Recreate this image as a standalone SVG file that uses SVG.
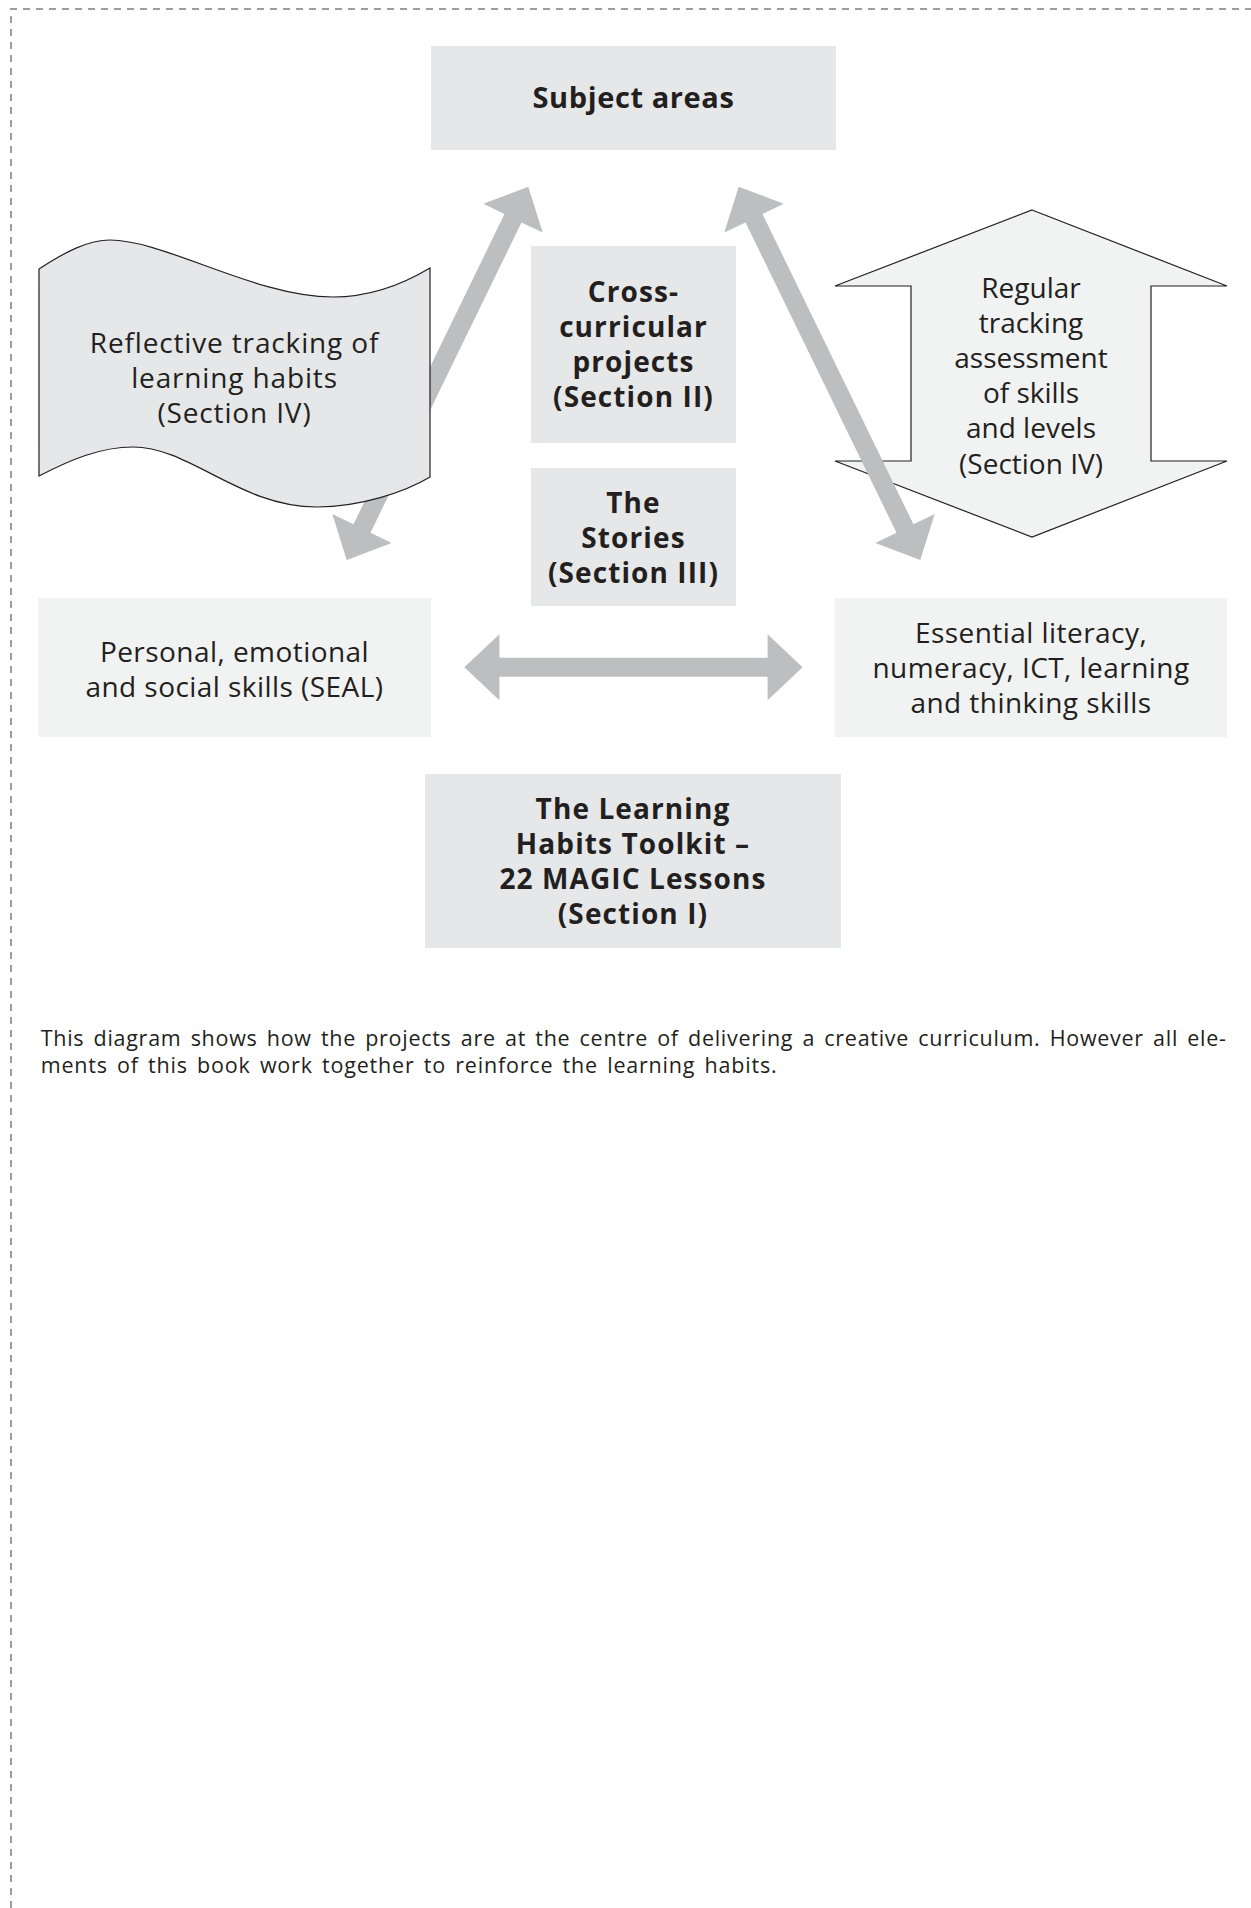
<svg xmlns="http://www.w3.org/2000/svg" width="1251" height="1908" viewBox="0 0 1251 1908">
<style>
.bg{fill:#ffffff}
.border{fill:none;stroke:#9d9d9d;stroke-width:2;stroke-dasharray:7 6}
.mid{fill:#e6e7e8}
.side{fill:#f1f2f2}
.outl{stroke:#231f20;stroke-width:1.2}
.arrow{fill:#bcbec0}
text{font-family:"Open Sans","Noto Sans","DejaVu Sans",sans-serif;fill:#231f20;text-anchor:middle}
.bt{font-weight:700;font-size:29px;letter-spacing:0.6px}
.b{font-weight:700;font-size:28px;letter-spacing:1.1px}
.r{font-weight:400;font-size:28px;letter-spacing:0.45px}
.rf{font-weight:400;font-size:28px;letter-spacing:0.85px}
.rr{font-weight:400;font-size:28px}
.cap{font-size:21.5px;letter-spacing:0.8px;word-spacing:2.9px;text-anchor:start}
</style>
<rect class="bg" x="0" y="0" width="1251" height="1908"/>
<path class="border" d="M11,1908 V9 H1251"/>

<g id="node-regular-tracking">
<polygon class="side outl" points="1032,210 1227,286 1151,286 1151,461 1227,461 1032,537 835,461 911,461 911,286 835,286"/>
<text class="rr" x="1031" y="298"><tspan x="1031">Regular</tspan><tspan x="1031" dy="35">tracking</tspan><tspan x="1031" dy="35">assessment</tspan><tspan x="1031" dy="35">of skills</tspan><tspan x="1031" dy="35">and levels</tspan><tspan x="1031" dy="36">(Section IV)</tspan></text>
</g>

<g id="connectors">
<polygon id="arrow-left" class="arrow" points="528.3,186.7 542.7,232.6 521.5,222.4 370.5,532.7 391.7,542.9 346.7,560 332.3,514.1 353.5,524.3 504.5,214 483.3,203.8"/>
<polygon id="arrow-right" class="arrow" points="738.7,186.7 724.3,232.6 745.5,222.4 896.5,532.7 875.3,542.9 920.3,560 934.7,514.1 913.5,524.3 762.5,214 783.7,203.8"/>
<polygon id="arrow-horizontal" class="arrow" points="464.3,667.2 499.4,634.2 499.4,657.7 767.6,657.7 767.6,634.2 802.6,667.2 767.6,700.2 767.6,676.7 499.4,676.7 499.4,700.2"/>
</g>

<g id="node-subject-areas">
<rect class="mid" x="431" y="46" width="405" height="104"/>
<text class="bt" x="633.5" y="108">Subject areas</text>
</g>

<g id="node-reflective">
<path class="mid outl" d="M39,269 C65,252 88,240 110,240 C165,240 255,297 333,297 C372,297 405,283 430,268 L430,477 C405,492 360,507 317,507 C240,507 190,447 133,447 C100,447 70,460 39,476 Z"/>
<text class="rf" x="234.5" y="353"><tspan x="234.5">Reflective tracking of</tspan><tspan x="234.5" dy="35">learning habits</tspan><tspan x="234.5" dy="35">(Section IV)</tspan></text>
</g>

<g id="node-cross-curricular">
<rect class="mid" x="531" y="246" width="205" height="197"/>
<text class="b" x="633.5" y="302"><tspan x="633.5">Cross-</tspan><tspan x="633.5" dy="35">curricular</tspan><tspan x="633.5" dy="35">projects</tspan><tspan x="633.5" dy="35">(Section II)</tspan></text>
</g>

<g id="node-stories">
<rect class="mid" x="531" y="468" width="205" height="138"/>
<text class="b" x="633.5" y="513"><tspan x="633.5">The</tspan><tspan x="633.5" dy="35">Stories</tspan><tspan x="633.5" dy="35">(Section III)</tspan></text>
</g>

<g id="node-personal">
<rect class="side" x="38.5" y="598" width="392.5" height="139"/>
<text class="r" x="234.5" y="662"><tspan x="234.5">Personal, emotional</tspan><tspan x="234.5" dy="35">and social skills (SEAL)</tspan></text>
</g>

<g id="node-essential">
<rect class="side" x="834.5" y="598" width="392.5" height="139"/>
<text class="r" x="1031" y="643"><tspan x="1031">Essential literacy,</tspan><tspan x="1031" dy="35">numeracy, ICT, learning</tspan><tspan x="1031" dy="35">and thinking skills</tspan></text>
</g>

<g id="node-toolkit">
<rect class="mid" x="425" y="774" width="416" height="174"/>
<text class="b" x="633" y="819"><tspan x="633">The Learning</tspan><tspan x="633" dy="35">Habits Toolkit –</tspan><tspan x="633" dy="35">22 MAGIC Lessons</tspan><tspan x="633" dy="35">(Section I)</tspan></text>
</g>

<g id="caption">
<text class="cap" x="40.7" y="1046"><tspan x="40.7" textLength="1186" lengthAdjust="spacing">This diagram shows how the projects are at the centre of delivering a creative curriculum. However all ele-</tspan><tspan x="40.7" dy="27">ments of this book work together to reinforce the learning habits.</tspan></text>
</g>
</svg>
